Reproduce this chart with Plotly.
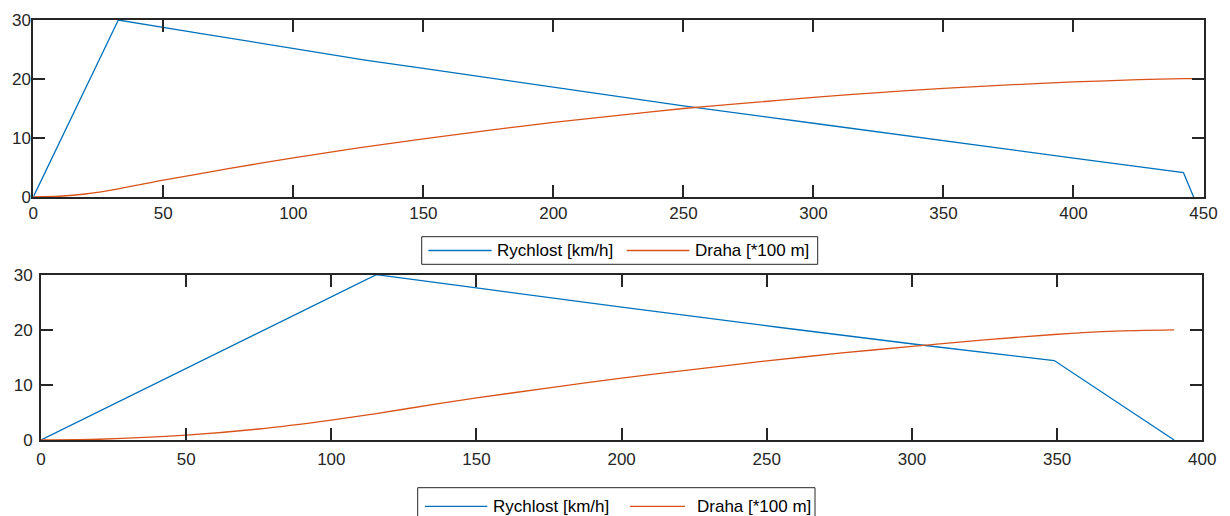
import plotly.graph_objects as go

# ---------------- data ----------------
top_speed_t = [0, 32.7, 64.0, 100, 127.6, 150, 200, 237, 250, 300, 345.3, 400, 442.3, 446.2]
top_speed_v = [0, 30, 27.75, 25.2, 23.2, 21.8, 18.6, 16.27, 15.45, 12.5, 9.77, 6.6, 4.12, 0]

top_dist_t = [0, 10, 20, 32.7, 50, 75, 100, 125, 150, 175, 200, 225, 250, 275, 300, 325, 350, 375, 400, 425, 442.3, 446.2]
top_dist_v = [0, 0.13, 0.51, 1.38, 2.85, 4.8, 6.65, 8.32, 9.85, 11.3, 12.65, 13.85, 15.0, 15.95, 16.88, 17.7, 18.4, 19.0, 19.5, 19.88, 20.05, 20.07]

bot_speed_t = [0, 115.5, 150, 200, 254.6, 304.6, 349, 390.3]
bot_speed_v = [0, 30, 27.6, 24.1, 20.42, 17.15, 14.42, 0]

bot_dist_t = [0, 20, 50, 75, 100, 115.5, 137.5, 150, 175, 200, 225, 250, 275, 300, 325, 349, 370, 390.3]
bot_dist_v = [0, 0.14, 0.88, 2.0, 3.62, 4.8, 6.65, 7.63, 9.47, 11.22, 12.83, 14.36, 15.75, 17.0, 18.16, 19.15, 19.75, 19.97]

series_names = ["Rychlost [km/h]", "Draha [*100 m]"]
top_xticks = [0, 50, 100, 150, 200, 250, 300, 350, 400, 450]
bot_xticks = [0, 50, 100, 150, 200, 250, 300, 350, 400]
yticks = [0, 10, 20, 30]

# ---------------- style ----------------
W, H = 1230, 516
BLUE = "#0072BD"
ORANGE = "#D95319"
AX = "#262626"
FONT = "Liberation Sans, Arial, Helvetica, sans-serif"
FS = 17

def px(x):
    return x / W

def py(y):
    return 1 - y / H

fig = go.Figure()

fig.add_trace(go.Scatter(x=top_speed_t, y=top_speed_v, mode="lines", name=series_names[0],
                         line=dict(color=BLUE, width=1.3), xaxis="x", yaxis="y", showlegend=False))
fig.add_trace(go.Scatter(x=top_dist_t, y=top_dist_v, mode="lines", name=series_names[1],
                         line=dict(color=ORANGE, width=1.3, shape="spline", smoothing=0.6),
                         xaxis="x", yaxis="y", showlegend=False))
fig.add_trace(go.Scatter(x=bot_speed_t, y=bot_speed_v, mode="lines", name=series_names[0],
                         line=dict(color=BLUE, width=1.3), xaxis="x2", yaxis="y2", showlegend=False))
fig.add_trace(go.Scatter(x=bot_dist_t, y=bot_dist_v, mode="lines", name=series_names[1],
                         line=dict(color=ORANGE, width=1.3, shape="spline", smoothing=0.6),
                         xaxis="x2", yaxis="y2", showlegend=False))

axis_common = dict(showline=True, linecolor=AX, linewidth=2, mirror="ticks",
                   ticks="inside", ticklen=12, tickwidth=2, tickcolor=AX,
                   showgrid=False, zeroline=False, automargin=False,
                   tickfont=dict(family=FONT, size=FS, color=AX))

fig.update_layout(
    width=W, height=H,
    margin=dict(l=0, r=0, t=0, b=0),
    paper_bgcolor="white", plot_bgcolor="white",
    showlegend=False,
    hovermode=False,
    xaxis=dict(domain=[px(33.3), px(1203.5)], range=[0, 450], tickvals=top_xticks,
               anchor="y", **axis_common),
    yaxis=dict(domain=[py(197), py(20)], range=[0, 30], tickvals=yticks,
               anchor="x", ticklabelstandoff=-3, **axis_common),
    xaxis2=dict(domain=[px(41), px(1202.3)], range=[0, 400], tickvals=bot_xticks,
                anchor="y2", ticklabelstandoff=3, **axis_common),
    yaxis2=dict(domain=[py(440), py(274.7)], range=[0, 30], tickvals=yticks,
                anchor="x2", ticklabelstandoff=3, **axis_common),
)

# ---------------- legends (drawn as boxes, sample lines and text) ----------------
shapes = []
annotations = []

def add_legend(box, blue_line, blue_text_x, orange_line, orange_text_x, yc):
    x0, x1, y0, y1 = box
    shapes.append(dict(type="rect", xref="paper", yref="paper",
                       x0=px(x0), x1=px(x1), y0=py(y1), y1=py(y0),
                       line=dict(color=AX, width=1), fillcolor="white", layer="above"))
    for (lx0, lx1), col in ((blue_line, BLUE), (orange_line, ORANGE)):
        shapes.append(dict(type="line", xref="paper", yref="paper",
                           x0=px(lx0), x1=px(lx1), y0=py(yc), y1=py(yc),
                           line=dict(color=col, width=1.3), layer="above"))
    for tx, txt in ((blue_text_x, series_names[0]), (orange_text_x, series_names[1])):
        annotations.append(dict(xref="paper", yref="paper", x=px(tx), y=py(yc),
                                text=txt, showarrow=False, xanchor="left", yanchor="middle",
                                font=dict(family=FONT, size=FS, color="#000000"),
                                borderpad=0))

add_legend((421.7, 817.7, 236.7, 264.3), (428.3, 491.7), 495.5, (626.7, 689.3), 693.5, 250.5)
add_legend((417.7, 815.0, 487.7, 517.0), (425.0, 487.3), 491.5, (630.0, 685.0), 696.0, 506.3)

fig.update_layout(shapes=shapes, annotations=annotations)

fig.write_html(
    "out.html",
    config={"displayModeBar": False, "staticPlot": True},
    post_script="document.body.style.margin='0';document.body.style.padding='0';"
                "document.documentElement.style.overflow='hidden';",
)
